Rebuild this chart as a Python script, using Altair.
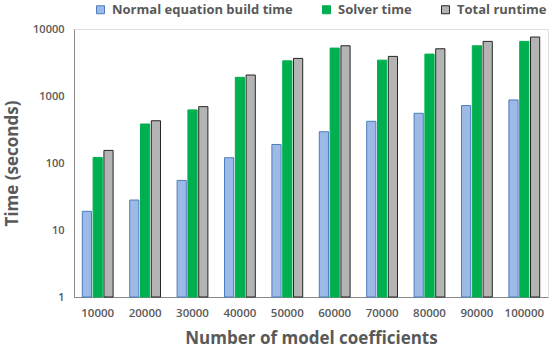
import altair as alt
import pandas as pd

coefficients = ["10000", "20000", "30000", "40000", "50000", "60000", "70000", "80000", "90000", "100000"]
series = ["Normal equation build time", "Solver time", "Total runtime"]
build_time = [19, 28, 55, 120, 189, 293, 419, 552, 719, 873]
solver_time = [121, 382, 620, 1900, 3350, 5190, 3430, 4220, 5620, 6530]
total_time = [154, 427, 693, 2057, 3640, 5620, 3900, 5070, 6530, 7590]

rows = []
for i, c in enumerate(coefficients):
    for s, vals in zip(series, [build_time, solver_time, total_time]):
        rows.append({"coef": c, "series": s, "time": vals[i]})
df = pd.DataFrame(rows)

font = "Open Sans"
txt = "#595959"

color_scale = alt.Scale(domain=series, range=["#9DB9E8", "#00B050", "#B4B4B4"])
stroke_scale = alt.Scale(domain=series, range=["#4A7EBB", "#00B050", "#262626"])

chart = alt.Chart(df).mark_bar(strokeWidth=1).encode(
    x=alt.X("coef:N", sort=coefficients,
            scale=alt.Scale(paddingInner=0.35, paddingOuter=0.175),
            axis=alt.Axis(title="Number of model coefficients", labelAngle=0,
                          ticks=False, labelPadding=10, titlePadding=12,
                          domainColor="#888888", labelColor=txt, titleColor=txt,
                          labelFont=font, titleFont=font, labelFontSize=11.5,
                          labelFontWeight=600, titleFontSize=17, titleFontWeight="bold")),
    xOffset=alt.XOffset("series:N", sort=series, scale=alt.Scale(paddingInner=0.15)),
    y=alt.Y("time:Q",
            scale=alt.Scale(type="log", domain=[1, 10000]),
            axis=alt.Axis(title="Time (seconds)", values=[1, 10, 100, 1000, 10000],
                          format="d", grid=False, ticks=False, labelPadding=10,
                          titlePadding=11, domainColor="#888888", labelColor=txt,
                          titleColor=txt, labelFont=font, titleFont=font,
                          labelFontSize=11, labelFontWeight=600, titleFontSize=17,
                          titleFontWeight="bold")),
    y2=alt.datum(1),
    color=alt.Color("series:N", sort=series, scale=color_scale,
                    legend=alt.Legend(title=None, orient="none", direction="horizontal",
                                      legendX=20, legendY=-26, symbolType="square",
                                      symbolSize=64, symbolStrokeWidth=1,
                                      columnPadding=27, labelFont=font, labelFontSize=13,
                                      labelFontWeight="bold", labelColor=txt,
                                      labelOffset=5, labelLimit=400)),
    stroke=alt.Stroke("series:N", sort=series, scale=stroke_scale, legend=None),
).properties(
    width=474, height=268,
    autosize=alt.AutoSizeParams(type="none"),
    padding={"left": 74, "top": 29, "right": 5, "bottom": 53},
).configure_view(stroke=None).configure(background="white")

chart.save("out.html", embed_options={"renderer": "svg", "actions": False})
